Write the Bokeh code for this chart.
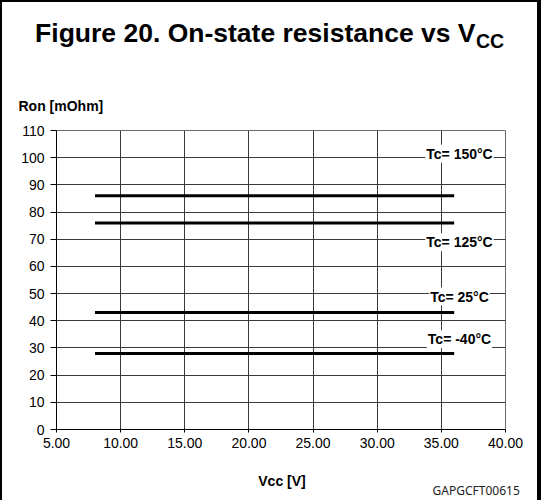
from bokeh.plotting import figure
from bokeh.models import Range1d, FixedTicker, Label, NumeralTickFormatter
from bokeh.embed import file_html
from bokeh.resources import INLINE

# ---- data ----
vcc = [8.0, 36.0]
ron_150 = [86.0, 86.0]
ron_125 = [76.0, 76.0]
ron_25 = [43.0, 43.0]
ron_m40 = [28.0, 28.0]
series_labels = ["Tc= 150°C", "Tc= 125°C", "Tc= 25°C", "Tc= -40°C"]
x_ticks = [5, 10, 15, 20, 25, 30, 35, 40]
x_tick_labels = ["5.00", "10.00", "15.00", "20.00", "25.00", "30.00", "35.00", "40.00"]
y_ticks = [0, 10, 20, 30, 40, 50, 60, 70, 80, 90, 100, 110]

# ---- layout (pixels) ----
W, H = 541, 500
FL, FR, FT, FB = 56, 505, 130, 429
X0, X1, Y0, Y1 = 5.0, 40.0, 0.0, 110.0


def dx(px):
    return X0 + (px - FL) * (X1 - X0) / (FR - FL)


def dy(py):
    return Y0 + (FB - py) * (Y1 - Y0) / (FB - FT)


FONT = "Liberation Sans"
DESCENT = {"Liberation Sans": 0.212, "Noto Sans": 0.293}

p = figure(width=W, height=H, x_range=Range1d(X0, X1), y_range=Range1d(Y0, Y1),
           output_backend="svg", toolbar_location=None,
           min_border_left=FL, min_border_right=W - FR,
           min_border_top=FT, min_border_bottom=H - FB)
p.background_fill_color = "white"
p.border_fill_color = "white"
p.outline_line_color = "#6a6a6a"
p.outline_line_width = 1

# grid
p.xgrid.ticker = FixedTicker(ticks=x_ticks)
p.ygrid.ticker = FixedTicker(ticks=y_ticks)
for g in (p.xgrid, p.ygrid):
    g.grid_line_color = "#3a3a3a"
    g.grid_line_width = 1

# axes
xa = p.xaxis[0]
xa.ticker = FixedTicker(ticks=x_ticks)
xa.formatter = NumeralTickFormatter(format="0.00")
xa.major_label_overrides = {t: s for t, s in zip(x_ticks, x_tick_labels)}
ya = p.yaxis[0]
ya.ticker = FixedTicker(ticks=y_ticks)
for ax in (xa, ya):
    ax.axis_line_color = "black"
    ax.axis_line_width = 1
    ax.major_tick_line_color = "black"
    ax.minor_tick_line_color = None
    ax.major_tick_in = 0
    ax.major_label_text_font = FONT
    ax.major_label_text_font_size = "14px"
    ax.major_label_text_color = "black"
xa.major_tick_out = 3
xa.major_label_standoff = 5
ya.major_tick_out = 6
ya.major_label_standoff = 6

# series
for ron in (ron_150, ron_125, ron_25, ron_m40):
    p.line(vcc, ron, line_width=3, line_color="black")


def make_label(px, py, text, align, size, bold=True, font=FONT, color="black", pad=0, **kw):
    # py is the wanted baseline (pixels from top); the box bottom sits at the given y
    shift = DESCENT[font] * size + pad
    return Label(x=dx(px), y=dy(py - shift), text=text, text_align=align,
                 text_baseline="alphabetic", text_font=font, text_font_size=f"{size}px",
                 text_font_style="bold" if bold else "normal", text_color=color,
                 padding=pad, **kw)


# series labels (inside the frame)
label_x = 459
label_baselines = [157.3, 245.7, 300.0, 342.7]
for txt, by in zip(series_labels, label_baselines):
    p.add_layout(make_label(label_x, by, txt, "center", 14, pad=1,
                            background_fill_color="white"))

# texts outside the plot frame (side panels are not clipped)
p.add_layout(make_label(475, 38.3, "Figure 20. On-state resistance vs V", "right", 26.5), "above")
p.add_layout(make_label(475.5, 44.3, "CC", "left", 19.5), "above")
p.add_layout(make_label(18, 108.3, "Ron [mOhm]", "left", 14), "above")
p.add_layout(make_label(281.5, 483.3, "Vcc [V]", "center", 14), "below")
p.add_layout(make_label(519.3, 493.3, "GAPGCFT00615", "right", 12, bold=False,
                        font="Noto Sans", color="#222222"), "below")

html = file_html(p, INLINE)
frame_css = ("<style>html,body{margin:0;padding:0;overflow:hidden;}"
             "body::after{content:'';position:fixed;left:0;top:0;width:541px;height:500px;"
             "box-sizing:border-box;border-left:2px solid #000;border-top:2px solid #000;"
             "border-right:4px solid #000;pointer-events:none;z-index:10;}</style>")
html = html.replace("<head>", "<head>" + frame_css, 1)
open("out.html", "w").write(html)
